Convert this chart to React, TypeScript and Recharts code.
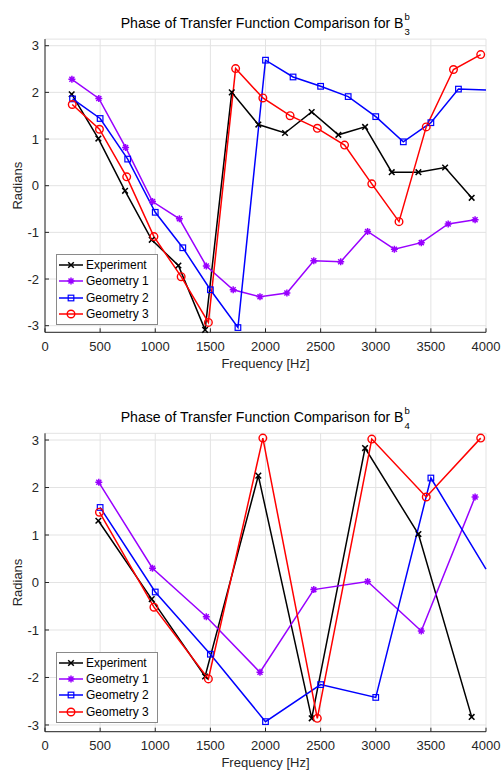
import React from "react";
import { LineChart, Line, XAxis, YAxis, CartesianGrid } from "recharts";

const FREQ_TICKS = [0, 500, 1000, 1500, 2000, 2500, 3000, 3500, 4000];
const RAD_TICKS = [-3, -2, -1, 0, 1, 2, 3];

// B3^b  (top plot)
const EXP_FREQ_B3 = [242, 484, 726, 968, 1210, 1452, 1694, 1935, 2177, 2419, 2661, 2903, 3145, 3387, 3629, 3870];
const EXP_B3 = [1.96, 1.01, -0.11, -1.16, -1.71, -3.09, 2.0, 1.31, 1.13, 1.58, 1.09, 1.26, 0.29, 0.29, 0.39, -0.26];
const G1_FREQ_B3 = [244, 488, 731, 975, 1219, 1463, 1707, 1950, 2194, 2438, 2682, 2926, 3169, 3413, 3657, 3901];
const G1_B3 = [2.28, 1.87, 0.82, -0.34, -0.71, -1.72, -2.23, -2.38, -2.3, -1.61, -1.63, -0.98, -1.36, -1.22, -0.82, -0.73];
const G2_FREQ_B3 = [250, 500, 750, 1000, 1250, 1500, 1750, 2000, 2250, 2500, 2750, 3000, 3250, 3500, 3750, 4000];
const G2_B3 = [1.86, 1.44, 0.57, -0.57, -1.33, -2.23, -3.04, 2.69, 2.33, 2.13, 1.91, 1.48, 0.94, 1.35, 2.07, 2.05];
const G3_FREQ_B3 = [247, 494, 741, 988, 1235, 1482, 1729, 1976, 2223, 2470, 2717, 2964, 3211, 3458, 3705, 3952];
const G3_B3 = [1.74, 1.21, 0.19, -1.09, -1.95, -2.93, 2.51, 1.88, 1.5, 1.23, 0.87, 0.04, -0.77, 1.26, 2.49, 2.81];

// B4^b  (bottom plot)
const EXP_FREQ_B4 = [484, 968, 1452, 1935, 2419, 2903, 3387, 3870];
const EXP_B4 = [1.3, -0.35, -1.98, 2.25, -2.86, 2.83, 1.02, -2.83];
const G1_FREQ_B4 = [488, 975, 1463, 1950, 2438, 2926, 3413, 3901];
const G1_B4 = [2.11, 0.3, -0.72, -1.89, -0.15, 0.02, -1.02, 1.8];
const G2_FREQ_B4 = [500, 1000, 1500, 2000, 2500, 3000, 3500, 4000];
const G2_B4 = [1.58, -0.2, -1.51, -2.93, -2.15, -2.42, 2.2, 0.28];
const G3_FREQ_B4 = [494, 988, 1482, 1976, 2470, 2964, 3458, 3952];
const G3_B4 = [1.48, -0.52, -2.03, 3.04, -2.86, 3.02, 1.8, 3.04];

const INK = "#262626";
const GRID = "#e3e3e3";
const FONT = '"Liberation Sans", Arial, Helvetica, sans-serif';

const PLOT_LEFT = 45;
const PLOT_RIGHT = 486;
const CHART_W = 502;
const Y_AXIS_W = 40;
const X_AXIS_H = 20;
const X_MAX = 4000;

type Shape = "x" | "star" | "square" | "circle";

const STYLES: { name: string; color: string; shape: Shape }[] = [
  { name: "Experiment", color: "#000000", shape: "x" },
  { name: "Geometry 1", color: "#9900ff", shape: "star" },
  { name: "Geometry 2", color: "#0000ff", shape: "square" },
  { name: "Geometry 3", color: "#ff0000", shape: "circle" },
];

function zip(freqs: number[], vals: number[]) {
  return freqs.map((f, i) => ({ f, v: vals[i] }));
}

const B3_LINES = [
  zip(EXP_FREQ_B3, EXP_B3),
  zip(G1_FREQ_B3, G1_B3),
  zip(G2_FREQ_B3, G2_B3),
  zip(G3_FREQ_B3, G3_B3),
];
const B4_LINES = [
  zip(EXP_FREQ_B4, EXP_B4),
  zip(G1_FREQ_B4, G1_B4),
  zip(G2_FREQ_B4, G2_B4),
  zip(G3_FREQ_B4, G3_B4),
];

function Marker({ shape, cx, cy, color }: { shape: Shape; cx: number; cy: number; color: string }) {
  if (shape === "x") {
    const s = 2.8;
    return (
      <path
        d={`M${cx - s},${cy - s}L${cx + s},${cy + s}M${cx - s},${cy + s}L${cx + s},${cy - s}`}
        stroke={color}
        strokeWidth={1.5}
        fill="none"
      />
    );
  }
  if (shape === "star") {
    const s = 3.5;
    const d = 2.5;
    return (
      <path
        d={`M${cx - s},${cy}L${cx + s},${cy}M${cx},${cy - s}L${cx},${cy + s}M${cx - d},${cy - d}L${cx + d},${cy + d}M${cx - d},${cy + d}L${cx + d},${cy - d}`}
        stroke={color}
        strokeWidth={1.5}
        fill="none"
      />
    );
  }
  if (shape === "square") {
    const s = 2.8;
    return <rect x={cx - s} y={cy - s} width={2 * s} height={2 * s} stroke={color} strokeWidth={1.2} fill="none" />;
  }
  return <circle cx={cx} cy={cy} r={3.8} stroke={color} strokeWidth={1.4} fill="none" />;
}

interface ChartProps {
  lines: { f: number; v: number }[][];
  sub: string;
  top: number;
  height: number;
  plotTop: number;
  plotBottom: number;
  legendTop: number;
}

function PhaseChart({ lines, sub, top, height, plotTop, plotBottom, legendTop }: ChartProps) {
  const margin = {
    top: plotTop,
    right: CHART_W - PLOT_RIGHT,
    left: PLOT_LEFT - Y_AXIS_W,
    bottom: height - plotBottom - X_AXIS_H,
  };
  const midX = (PLOT_LEFT + PLOT_RIGHT) / 2;
  const midY = (plotTop + plotBottom) / 2;

  return (
    <div style={{ position: "absolute", left: 0, top, width: CHART_W, height }}>
      <LineChart width={CHART_W} height={height} margin={margin}>
        <CartesianGrid stroke={GRID} />
        <XAxis
          type="number"
          dataKey="f"
          domain={[0, X_MAX]}
          ticks={FREQ_TICKS}
          interval={0}
          height={X_AXIS_H}
          tickSize={-4}
          tickMargin={13.4}
          tick={{ fontSize: 13, fill: INK }}
          axisLine={{ stroke: INK }}
          tickLine={{ stroke: INK }}
        />
        <YAxis
          type="number"
          domain={[-Math.PI, Math.PI]}
          ticks={RAD_TICKS}
          interval={0}
          width={Y_AXIS_W}
          tickSize={-4}
          tickMargin={10}
          tick={{ fontSize: 13, fill: INK }}
          axisLine={{ stroke: INK }}
          tickLine={{ stroke: INK }}
        />
        {lines.map((pts, i) => {
          const st = STYLES[i];
          return (
            <Line
              key={st.name}
              data={pts}
              dataKey="v"
              type="linear"
              stroke={st.color}
              strokeWidth={1.5}
              activeDot={false}
              isAnimationActive={false}
              dot={(p: any) =>
                p.payload.f >= X_MAX ? (
                  <g key={`${st.name}-${p.index}`} />
                ) : (
                  <g key={`${st.name}-${p.index}`}>
                    <Marker shape={st.shape} cx={p.cx} cy={p.cy} color={st.color} />
                  </g>
                )
              }
            />
          );
        })}
      </LineChart>

      <svg
        width={CHART_W}
        height={height}
        style={{ position: "absolute", left: 0, top: 0, pointerEvents: "none" }}
      >
        <text x={403.5} y={28.2} textAnchor="end" fontSize={14.1} fill="#000">
          Phase of Transfer Function Comparison for B
        </text>
        <text x={404.5} y={19.8} fontSize={9.5} fill="#000">b</text>
        <text x={404.5} y={34.8} fontSize={9.5} fill="#000">{sub}</text>
        <text x={midX} y={plotBottom + 35.7} textAnchor="middle" fontSize={13} fill={INK}>
          Frequency [Hz]
        </text>
        <text
          transform={`translate(21.5,${midY}) rotate(-90)`}
          textAnchor="middle"
          fontSize={13}
          fill={INK}
        >
          Radians
        </text>
      </svg>

      <div
        style={{
          position: "absolute",
          left: 56,
          top: legendTop,
          width: 102,
          height: 71,
          boxSizing: "border-box",
          border: "1px solid #8a8a8a",
          background: "#fff",
          paddingTop: 2,
        }}
      >
        {STYLES.map((st) => (
          <div key={st.name} style={{ height: 16.3, display: "flex", alignItems: "center", fontSize: 12, color: "#000" }}>
            <svg width={29} height={16} style={{ flex: "none" }}>
              <line x1={2} x2={26} y1={8} y2={8} stroke={st.color} strokeWidth={1.5} />
              <Marker shape={st.shape} cx={14} cy={8} color={st.color} />
            </svg>
            <span style={{ whiteSpace: "nowrap" }}>{st.name}</span>
          </div>
        ))}
      </div>
    </div>
  );
}

export default function App() {
  return (
    <div
      style={{
        position: "absolute",
        left: 0,
        top: 0,
        width: 502,
        height: 772,
        overflow: "hidden",
        background: "#fff",
        fontFamily: FONT,
      }}
    >
      <PhaseChart lines={B3_LINES} sub="3" top={0} height={394} plotTop={39.1} plotBottom={332.3} legendTop={254} />
      <PhaseChart lines={B4_LINES} sub="4" top={394} height={378} plotTop={39.3} plotBottom={337.7} legendTop={257.7} />
    </div>
  );
}
